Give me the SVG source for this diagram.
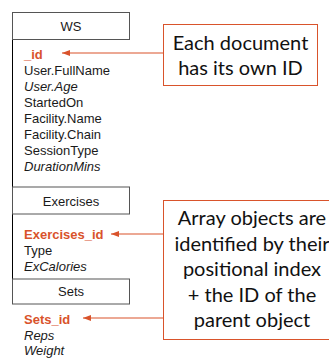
<svg xmlns="http://www.w3.org/2000/svg" width="329" height="358" viewBox="0 0 329 358">
  <style>
    .hdr { fill: #ffffff; stroke: #555555; stroke-width: 1; }
    .hdr-t { font-family: "Liberation Sans", Arial, sans-serif; font-size: 13px; fill: #1a1a1a; text-anchor: middle; }
    .fld { font-family: "Liberation Sans", Arial, sans-serif; font-size: 13px; fill: #1a1a1a; }
    .it { font-style: italic; }
    .key { font-weight: bold; fill: #D9532B; }
    .spine { stroke: #000000; stroke-width: 1; fill: none; }
    .note { fill: #ffffff; stroke: #D9532B; stroke-width: 1; }
    .note-t { font-family: Lato, "Open Sans", sans-serif; font-size: 20px; fill: #111111; text-anchor: middle; }
    .link { stroke: #D9532B; stroke-width: 1.2; fill: none; marker-end: url(#head); }
  </style>
  <defs>
    <marker id="head" viewBox="0 0 8 6" refX="8" refY="3" markerWidth="8" markerHeight="6" markerUnits="userSpaceOnUse" orient="auto">
      <path d="M0,0 L8,3 L0,6 Z" fill="#D9532B"/>
    </marker>
  </defs>

  <rect width="329" height="358" fill="#ffffff"/>

  <!-- left spine joining the document sections -->
  <g id="spine">
    <line class="spine" x1="12.5" y1="40" x2="12.5" y2="187"/>
    <line class="spine" x1="12.5" y1="214" x2="12.5" y2="279"/>
  </g>

  <!-- WS document -->
  <g id="ws">
    <rect class="hdr" x="12.5" y="12.5" width="117" height="27"/>
    <text class="hdr-t" x="71" y="31">WS</text>
    <text class="fld key" x="24" y="59">_id</text>
    <text class="fld" x="24" y="75">User.FullName</text>
    <text class="fld it" x="24" y="91">User.Age</text>
    <text class="fld" x="24" y="107">StartedOn</text>
    <text class="fld" x="24" y="123">Facility.Name</text>
    <text class="fld" x="24" y="139">Facility.Chain</text>
    <text class="fld" x="24" y="155">SessionType</text>
    <text class="fld it" x="24" y="171">DurationMins</text>
  </g>

  <!-- Exercises array -->
  <g id="exercises">
    <rect class="hdr" x="12.5" y="187" width="117" height="27"/>
    <text class="hdr-t" x="71" y="206">Exercises</text>
    <text class="fld key" x="24" y="239">Exercises_id</text>
    <text class="fld" x="24" y="255">Type</text>
    <text class="fld it" x="24" y="271">ExCalories</text>
  </g>

  <!-- Sets array -->
  <g id="sets">
    <rect class="hdr" x="12.5" y="279" width="117" height="25"/>
    <text class="hdr-t" x="71" y="296">Sets</text>
    <text class="fld key" x="24" y="324">Sets_id</text>
    <text class="fld it" x="24" y="340">Reps</text>
    <text class="fld it" x="24" y="355">Weight</text>
  </g>

  <!-- callout: document id -->
  <g id="note-doc">
    <rect class="note" x="163.5" y="24.5" width="154" height="61"/>
    <text class="note-t" x="240.5" y="50">Each document</text>
    <text class="note-t" x="240.5" y="74.5">has its own ID</text>
  </g>

  <!-- callout: array object ids -->
  <g id="note-array">
    <rect class="note" x="163.5" y="200.5" width="180" height="139"/>
    <text class="note-t" x="252" y="225">Array objects are</text>
    <text class="note-t" x="252" y="250.5">identified by their</text>
    <text class="note-t" x="252" y="276">positional index</text>
    <text class="note-t" x="252" y="301.5">+ the ID of the</text>
    <text class="note-t" x="252" y="327">parent object</text>
  </g>

  <!-- connectors -->
  <g id="connectors">
    <line class="link" x1="163.5" y1="53" x2="62" y2="53"/>
    <line class="link" x1="163.5" y1="234" x2="111" y2="234"/>
    <line class="link" x1="163.5" y1="318" x2="83" y2="318"/>
  </g>
</svg>
